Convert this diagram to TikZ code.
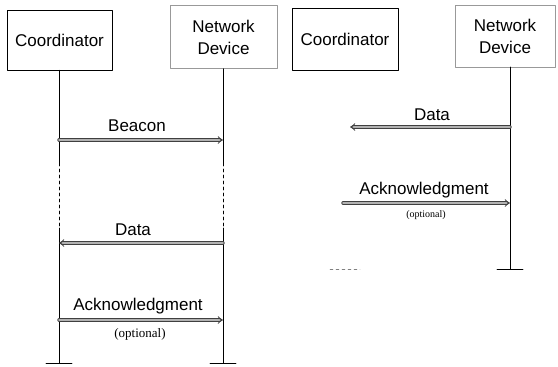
\documentclass[tikz,border=0pt]{standalone}
\usepackage{fontspec}
\setmainfont{Liberation Sans}
\newfontfamily\optfont{Liberation Serif}
\usetikzlibrary{arrows.meta, calc}
\begin{document}
\begin{tikzpicture}[x=1pt,y=-1pt,line join=round,line cap=round,
  font=\fontsize{17}{22}\selectfont,
  coordbox/.style={draw,line width=0.7pt,inner sep=0pt},
  devbox/.style={draw=black!40,line width=0.5pt,inner sep=0pt,align=center},
  life/.style={line width=0.8pt},
  msg/.style={draw=black!75,double=black!30,double distance=1.8pt,line width=0.8pt,-{Implies[length=6pt,width=9pt]}},
  opt/.style={font=\optfont\fontsize{13}{15}\selectfont}]
\useasboundingbox (0,0) rectangle (558,367);
% boxes
\node[coordbox,minimum width=105pt,minimum height=60pt] (lcoord) at (59.5,40) {Coordinator};
\node[devbox,minimum width=107pt,minimum height=63pt] (ldev) at (223.5,37) {Network\\Device};
\node[coordbox,minimum width=106pt,minimum height=62pt] (rcoord) at (345,39) {Coordinator};
\node[devbox,minimum width=100pt,minimum height=62pt] (rdev) at (505,36) {Network\\Device};
\path
(59,163) coordinate (lc1)
(59,228) coordinate (lc2)
(59,363) coordinate (lcend)
(223,163) coordinate (ld1)
(223,228) coordinate (ld2)
(223,363) coordinate (ldend)
(510,67) coordinate (rdtop)
(510,269) coordinate (rdend)
(345,269) coordinate (rcend)
;
% lifelines
\draw[life] (lcoord.south -| lc1) -- (lc1);
\draw[life,dashed] (lc1) -- (lc2);
\draw[life] (lc2) -- (lcend);
\draw[life] (ldev.south -| ld1) -- (ld1);
\draw[life,dashed] (ld1) -- (ld2);
\draw[life] (ld2) -- (ldend);
\draw[life] (rdtop) -- (rdend);
\foreach \p in {lcend,ldend,rdend}
{\draw[life] ([xshift=-13pt]\p)--([xshift=13pt]\p);}
\draw[black!50,dashed] ([xshift=-15pt]rcend)--([xshift=15pt]rcend);
% messages, left
\path
(59,140) coordinate (b1) (223,140) coordinate (b2)
(223,243) coordinate (d1) (59,243) coordinate (d2)
(59,320) coordinate (a1) (223,320) coordinate (a2)
;
\draw[msg] (b1) -- (b2);
\draw[msg] (d1) -- (d2);
\draw[msg] (a1) -- (a2);
\node (beacon) at (137,126) {Beacon};
\node (ldata) at (133,230) {Data};
\node (lack) at (138,306) {Acknowledgment};
\node[opt] (lopt) at (140,334) {(optional)};
% messages, right
\path
(510,127) coordinate (rd1) (350,127) coordinate (rd2)
(343,203) coordinate (ra1) (510,203) coordinate (ra2)
;
\draw[msg] (rd1) -- (rd2);
\draw[msg] (ra1) -- (ra2);
\node (rdata) at (432,115) {Data};
\node (rack) at (424,190) {Acknowledgment};
\node[opt,font=\optfont\fontsize{10}{12}\selectfont] (ropt) at (426,215) {(optional)};
\end{tikzpicture}
\end{document}
